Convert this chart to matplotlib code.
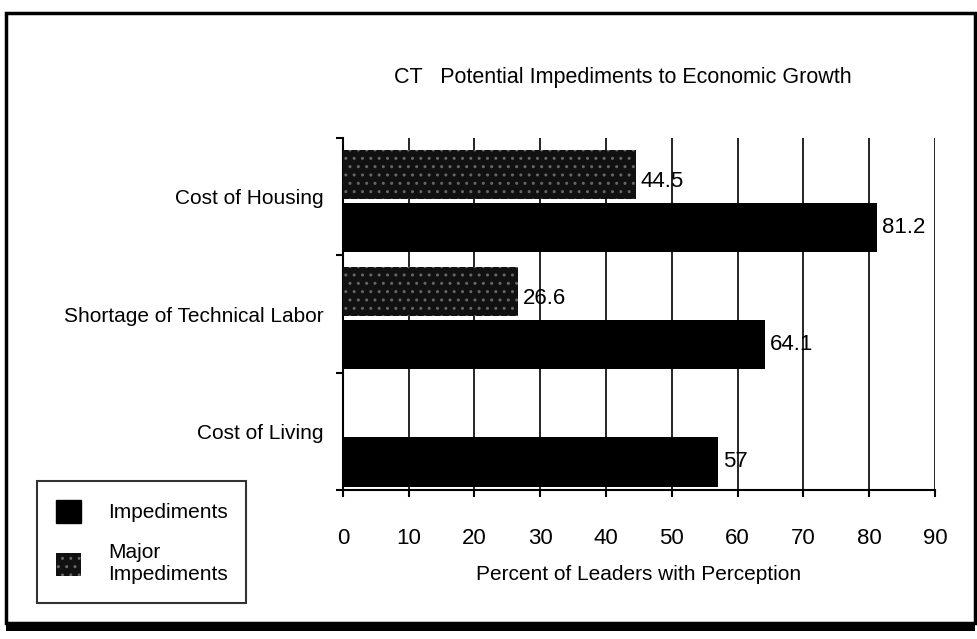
import matplotlib.pyplot as plt
from matplotlib.patches import Rectangle, Patch
import numpy as np

# chart values
categories = ['Cost of Housing', 'Shortage of Technical Labor', 'Cost of Living']
impediments = [81.2, 64.1, 57]
major_impediments = [44.5, 26.6, None]   # no major bar for cost of living
x_ticks = [0, 10, 20, 30, 40, 50, 60, 70, 80, 90]

plt.rcParams['font.family'] = ['Liberation Sans', 'DejaVu Sans']
plt.rcParams['hatch.color'] = '#777777'

fig = plt.figure(figsize=(9.77, 6.39), dpi=100)
ax = fig.add_axes([0.351, 0.233, 0.606, 0.551])

y = np.arange(len(categories))
h = 0.42
for i, cat in enumerate(categories):
    if major_impediments[i] is not None:
        ax.barh(y[i] - 0.19, major_impediments[i], height=h, color='#111111',
                hatch='..', edgecolor='#666666', linewidth=0, zorder=3)
        ax.text(major_impediments[i] + 0.8, y[i] - 0.13, str(major_impediments[i]),
                va='center', ha='left', fontsize=16)
    ax.barh(y[i] + 0.26, impediments[i], height=h, color='black', zorder=3)
    ax.text(impediments[i] + 0.8, y[i] + 0.26, str(impediments[i]),
            va='center', ha='left', fontsize=16)

ax.set_xlim(0, 90)
ax.set_ylim(2.5, -0.5)
ax.set_xticks(x_ticks)
ax.set_xticklabels([str(t) for t in x_ticks], fontsize=16)
ax.set_yticks(y)
ax.set_yticklabels(categories, fontsize=15)
ax.set_yticks([-0.5, 0.5, 1.5, 2.5], minor=True)
ax.tick_params(axis='y', which='major', length=0, pad=14)
ax.tick_params(axis='y', which='minor', length=5, width=1.5)
ax.tick_params(axis='x', length=5, width=1.5, pad=22)
ax.grid(axis='x', color='black', linewidth=1.2, zorder=0)
ax.spines['top'].set_visible(False)
ax.spines['right'].set_visible(False)
ax.spines['left'].set_linewidth(1.5)
ax.spines['bottom'].set_linewidth(1.5)
ax.set_xlabel('Percent of Leaders with Perception', fontsize=15, labelpad=12)

fig.text(0.637, 0.878, 'CT   Potential Impediments to Economic Growth',
         ha='center', va='center', fontsize=15.5)

# legend box bottom left
handles = [Patch(facecolor='black', edgecolor='black'),
           Patch(facecolor='#111111', hatch='..', edgecolor='#666666', linewidth=0)]
fig.legend(handles, ['Impediments', 'Major\nImpediments'],
           loc='lower left', bbox_to_anchor=(0.038, 0.056), fontsize=15,
           frameon=True, fancybox=False, edgecolor='black', handlelength=1.2,
           handleheight=1.3, borderpad=0.9, labelspacing=1.0, handletextpad=1.3,
           borderaxespad=0)
fig.legends[0].get_frame().set_linewidth(1.5)

# outer frame of the scanned page
fig.patches.append(Rectangle((0.006, 0.025), 0.992, 0.955, transform=fig.transFigure,
                             fill=False, edgecolor='black', linewidth=2.5))
fig.patches.append(Rectangle((0.006, 0.012), 0.992, 0.013, transform=fig.transFigure,
                             facecolor='black', edgecolor='none'))

fig.savefig('out.png', dpi=100)
